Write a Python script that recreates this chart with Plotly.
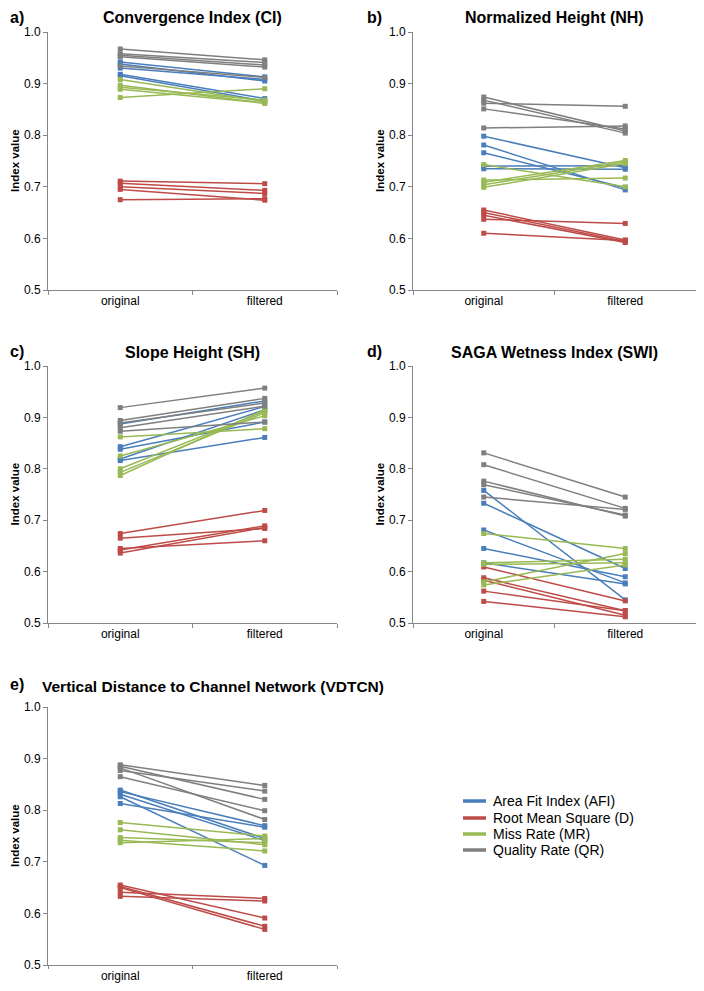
import plotly.graph_objects as go

# page is 704x991; browser body margin is 8px, so the figure is 16px smaller
OFF = 8
FW, FH = 704 - 2 * OFF, 991 - 2 * OFF

categories = ["original", "filtered"]
series_names = ["Area Fit Index (AFI)", "Root Mean Square (D)", "Miss Rate (MR)", "Quality Rate (QR)"]
series_colors = ["#4a7ebb", "#be4b48", "#98b954", "#7f7f7f"]
panel_titles = ["Convergence Index (CI)", "Normalized Height (NH)", "Slope Height (SH)",
                "SAGA Wetness Index (SWI)", "Vertical Distance to Channel Network (VDTCN)"]
panel_letters = ["a)", "b)", "c)", "d)", "e)"]
y_ticks = [0.5, 0.6, 0.7, 0.8, 0.9, 1.0]

# ---- a) Convergence Index ----
ci_afi_orig = [0.942, 0.938, 0.930, 0.918, 0.915]
ci_afi_filt = [0.913, 0.905, 0.908, 0.871, 0.866]
ci_d_orig = [0.711, 0.707, 0.700, 0.695, 0.675]
ci_d_filt = [0.706, 0.693, 0.687, 0.674, 0.677]
ci_mr_orig = [0.908, 0.897, 0.893, 0.889, 0.873]
ci_mr_filt = [0.865, 0.862, 0.868, 0.862, 0.890]
ci_qr_orig = [0.967, 0.958, 0.955, 0.952, 0.934]
ci_qr_filt = [0.946, 0.941, 0.936, 0.932, 0.912]

# ---- b) Normalized Height ----
nh_afi_orig = [0.798, 0.781, 0.766, 0.740, 0.735]
nh_afi_filt = [0.737, 0.694, 0.698, 0.741, 0.734]
nh_d_orig = [0.655, 0.650, 0.645, 0.637, 0.610]
nh_d_filt = [0.597, 0.594, 0.592, 0.629, 0.596]
nh_mr_orig = [0.743, 0.713, 0.709, 0.704, 0.699]
nh_mr_filt = [0.700, 0.717, 0.751, 0.748, 0.745]
nh_qr_orig = [0.874, 0.868, 0.862, 0.851, 0.814]
nh_qr_filt = [0.808, 0.804, 0.856, 0.812, 0.818]

# ---- c) Slope Height ----
sh_afi_orig = [0.887, 0.843, 0.838, 0.819, 0.816]
sh_afi_filt = [0.932, 0.921, 0.891, 0.915, 0.861]
sh_d_orig = [0.674, 0.665, 0.645, 0.642, 0.636]
sh_d_filt = [0.719, 0.684, 0.660, 0.689, 0.686]
sh_mr_orig = [0.862, 0.825, 0.800, 0.793, 0.787]
sh_mr_filt = [0.878, 0.903, 0.912, 0.909, 0.915]
sh_qr_orig = [0.919, 0.894, 0.889, 0.880, 0.873]
sh_qr_filt = [0.957, 0.937, 0.928, 0.922, 0.891]

# ---- d) SAGA Wetness Index ----
swi_afi_orig = [0.758, 0.733, 0.681, 0.645, 0.617]
swi_afi_filt = [0.545, 0.606, 0.578, 0.590, 0.576]
swi_d_orig = [0.609, 0.588, 0.583, 0.562, 0.542]
swi_d_filt = [0.543, 0.524, 0.515, 0.524, 0.512]
swi_mr_orig = [0.674, 0.617, 0.614, 0.580, 0.574]
swi_mr_filt = [0.645, 0.624, 0.617, 0.635, 0.613]
swi_qr_orig = [0.831, 0.808, 0.776, 0.769, 0.745]
swi_qr_filt = [0.745, 0.723, 0.708, 0.710, 0.721]

# ---- e) Vertical Distance to Channel Network ----
vd_afi_orig = [0.839, 0.836, 0.831, 0.826, 0.813]
vd_afi_filt = [0.745, 0.770, 0.741, 0.693, 0.767]
vd_d_orig = [0.655, 0.652, 0.650, 0.641, 0.633]
vd_d_filt = [0.591, 0.575, 0.569, 0.629, 0.624]
vd_mr_orig = [0.776, 0.762, 0.747, 0.742, 0.737]
vd_mr_filt = [0.750, 0.733, 0.737, 0.721, 0.745]
vd_qr_orig = [0.888, 0.885, 0.882, 0.877, 0.865]
vd_qr_filt = [0.848, 0.821, 0.782, 0.837, 0.799]

panels = [
    [(ci_afi_orig, ci_afi_filt), (ci_d_orig, ci_d_filt), (ci_mr_orig, ci_mr_filt), (ci_qr_orig, ci_qr_filt)],
    [(nh_afi_orig, nh_afi_filt), (nh_d_orig, nh_d_filt), (nh_mr_orig, nh_mr_filt), (nh_qr_orig, nh_qr_filt)],
    [(sh_afi_orig, sh_afi_filt), (sh_d_orig, sh_d_filt), (sh_mr_orig, sh_mr_filt), (sh_qr_orig, sh_qr_filt)],
    [(swi_afi_orig, swi_afi_filt), (swi_d_orig, swi_d_filt), (swi_mr_orig, swi_mr_filt), (swi_qr_orig, swi_qr_filt)],
    [(vd_afi_orig, vd_afi_filt), (vd_d_orig, vd_d_filt), (vd_mr_orig, vd_mr_filt), (vd_qr_orig, vd_qr_filt)],
]

# panel plot-area boxes in page pixels: (left, right, top, bottom)
boxes = [(48, 337, 32, 290), (413, 696, 32, 290),
         (48, 337, 366, 623), (413, 696, 366, 623),
         (48, 337, 707, 965)]


def px(x):
    return min(1.0, max(0.0, (x - OFF) / FW))


def py(y):
    return min(1.0, max(0.0, 1 - (y - OFF) / FH))


FONT = "Liberation Sans, Arial, sans-serif"
AXC = "#868686"

fig = go.Figure()
layout = dict(template="none", width=FW, height=FH,
              margin=dict(l=0, r=0, t=0, b=0, pad=0, autoexpand=False), autosize=False,
              paper_bgcolor="white", plot_bgcolor="white",
              font=dict(family=FONT, size=12, color="black"),
              showlegend=False)
annotations = []
shapes = []

for p, (series, box) in enumerate(zip(panels, boxes)):
    n = p + 1
    xa = "x" if n == 1 else f"x{n}"
    ya = "y" if n == 1 else f"y{n}"
    for s, (orig, filt) in enumerate(series):
        xs, ys = [], []
        for o, f in zip(orig, filt):
            xs += [categories[0], categories[1], None]
            ys += [o, f, None]
        fig.add_trace(go.Scatter(
            x=xs, y=ys, xaxis=xa, yaxis=ya, mode="lines+markers",
            name=series_names[s],
            line=dict(color=series_colors[s], width=1.5),
            marker=dict(symbol="square", size=5, color=series_colors[s],
                        line=dict(width=0)),
            hoverinfo="skip", connectgaps=False))
    l, r, t, b = box
    layout["xaxis" if n == 1 else f"xaxis{n}"] = dict(
        domain=[px(l), px(r)], anchor=ya, type="category", automargin=False,
        categoryorder="array", categoryarray=categories, range=[-0.5, 1.5],
        showline=True, linecolor=AXC, linewidth=1, ticks="outside", tickson="boundaries",
        ticklen=3 if p == 4 else 4, tickcolor=AXC, tickwidth=1, showgrid=False, zeroline=False,
        tickfont=dict(size=12, family=FONT, color="black"))
    layout["yaxis" if n == 1 else f"yaxis{n}"] = dict(
        domain=[py(b), py(t)], anchor=xa, range=[0.5, 1.0], automargin=False,
        tickvals=y_ticks, tickformat=".1f",
        showline=True, linecolor=AXC, linewidth=1, ticks="outside", ticklen=4,
        tickcolor=AXC, tickwidth=1, showgrid=False, zeroline=False,
        tickfont=dict(size=12, family=FONT, color="black"))
    # panel title
    if p < 4:
        annotations.append(dict(text=f"<b>{panel_titles[p]}</b>", xref="paper", yref="paper",
                                x=px((l + r) / 2), y=py(t - 14), xanchor="center", yanchor="middle",
                                showarrow=False, font=dict(size=16, family=FONT, color="black")))
    else:
        annotations.append(dict(text=f"<b>{panel_titles[p]}</b>", xref="paper", yref="paper",
                                x=px(40), y=py(t - 21), xanchor="left", yanchor="middle",
                                showarrow=False, font=dict(size=15.5, family=FONT, color="black")))
    # panel letter
    lx = 8 if p % 2 == 0 else 365
    annotations.append(dict(text=f"<b>{panel_letters[p]}</b>", xref="paper", yref="paper",
                            x=px(lx), y=py(t - 15 if p < 4 else t - 23), xanchor="left", yanchor="middle",
                            showarrow=False, font=dict(size=16, family=FONT, color="black")))
    # y-axis title
    annotations.append(dict(text="<b>Index value</b>", xref="paper", yref="paper",
                            x=px(l - 33), y=py((t + b) / 2), xanchor="center", yanchor="middle",
                            textangle=-90, showarrow=False,
                            font=dict(size=11.5, family=FONT, color="black")))

# legend (line samples + labels)
legend_rows = [801, 818, 834, 850]
for s in range(4):
    yrow = legend_rows[s]
    shapes.append(dict(type="line", xref="paper", yref="paper",
                       x0=px(463), x1=px(486), y0=py(yrow), y1=py(yrow),
                       line=dict(color=series_colors[s], width=3.5)))
    annotations.append(dict(text=series_names[s], xref="paper", yref="paper",
                            x=px(491), y=py(yrow), xanchor="left", yanchor="middle",
                            showarrow=False, font=dict(size=14, family=FONT, color="black")))

layout["annotations"] = annotations
layout["shapes"] = shapes
fig.update_layout(**layout)

fig.write_html("out.html")
